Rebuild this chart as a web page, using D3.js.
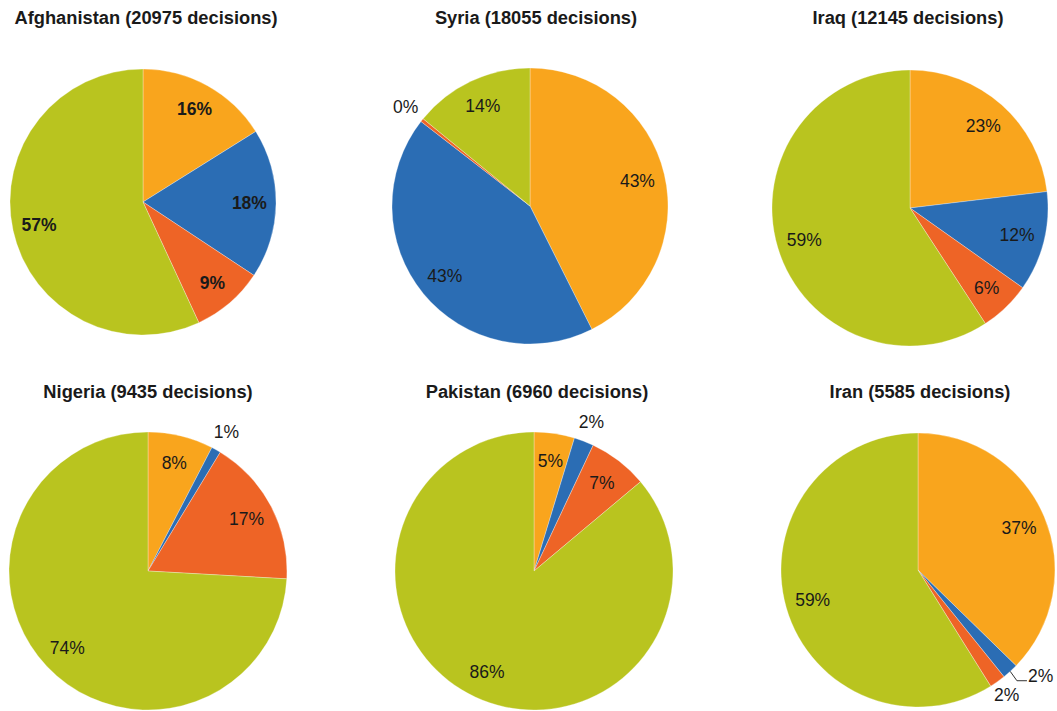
<!DOCTYPE html>
<html>
<head>
<meta charset="utf-8">
<script src="https://cdn.jsdelivr.net/npm/d3@7"></script>
<style>
  html, body { margin: 0; padding: 0; background: #fff; }
  svg { display: block; }
</style>
</head>
<body>
<svg id="chart" width="1057" height="711"></svg>
<script>
// ---- Data ----
const countries = ["Afghanistan", "Syria", "Iraq", "Nigeria", "Pakistan", "Iran"];
const decisions = [20975, 18055, 12145, 9435, 6960, 5585];
const categories = ["Cat A", "Cat B", "Cat C", "Cat D"];
// share of decisions (%) per category, in order: orange, blue, red, green
const afghanistanValues = [16.1, 18.2, 8.8, 56.9];
const syriaValues       = [42.6, 42.9, 0.4, 14.1];
const iraqValues        = [23.1, 11.7, 6.0, 59.2];
const nigeriaValues     = [7.6, 1.1, 17.2, 74.1];
const pakistanValues    = [4.7, 2.3, 6.9, 86.1];
const iranValues        = [37.3, 1.9, 1.9, 58.9];
const seriesValues = [afghanistanValues, syriaValues, iraqValues, nigeriaValues, pakistanValues, iranValues];

// ---- Layout / style ----
const colors = ["#F9A51D", "#2B6DB4", "#EE6426", "#B9C41F"];
const layout = [
  { cx: 143, cy: 202, r: 133, tx: 146, ty: 24, bold: true },
  { cx: 530, cy: 206, r: 138, tx: 536, ty: 24 },
  { cx: 910, cy: 208, r: 138, tx: 908, ty: 24 },
  { cx: 148, cy: 571, r: 139, tx: 148, ty: 398 },
  { cx: 534, cy: 571, r: 139, tx: 537, ty: 398 },
  { cx: 918, cy: 570, r: 137, tx: 920, ty: 398 }
];
const FONT = "Liberation Sans, Arial, sans-serif";
const LABEL_SIZE = 17.5;

const svg = d3.select("#chart");
const fmt = d3.format(".0%");
const color = d3.scaleOrdinal().domain(categories).range(colors);
const pie = d3.pie().sort(null).value(d => d.v);

countries.forEach((name, i) => {
  const L = layout[i];
  const vals = seriesValues[i];
  const total = d3.sum(vals);
  const data = vals.map((v, k) => ({ cat: categories[k], v: v }));
  const arcs = pie(data);
  const arc = d3.arc().innerRadius(0).outerRadius(L.r);
  const labelArc = d3.arc().innerRadius(L.r * 0.8).outerRadius(L.r * 0.8);

  svg.append("text")
    .attr("x", L.tx).attr("y", L.ty)
    .attr("text-anchor", "middle")
    .attr("font-family", FONT)
    .attr("font-weight", "bold")
    .attr("font-size", 18.3)
    .attr("fill", "#1a1a1a")
    .text(`${name} (${decisions[i]} decisions)`);

  const g = svg.append("g").attr("transform", `translate(${L.cx},${L.cy})`);
  g.selectAll("path").data(arcs).join("path")
    .attr("d", arc)
    .attr("fill", d => color(d.data.cat))
    .attr("stroke", "rgba(255,255,255,0.6)")
    .attr("stroke-width", 0.5);

  arcs.forEach((a, k) => {
    const share = a.data.v / total;
    const small = share < 0.03;
    const mid = (a.startAngle + a.endAngle) / 2;
    const txt = fmt(share);
    const nextSmall = k + 1 < arcs.length && arcs[k + 1].data.v / total < 0.03;
    const prevSmall = k > 0 && arcs[k - 1].data.v / total < 0.03;
    if (!small) {
      const [x, y] = labelArc.centroid(a);
      g.append("text")
        .attr("x", x).attr("y", y)
        .attr("dy", "0.35em")
        .attr("text-anchor", "middle")
        .attr("font-family", FONT)
        .attr("font-size", LABEL_SIZE)
        .attr("font-weight", L.bold ? "bold" : "normal")
        .attr("fill", "#1a1a1a")
        .text(txt);
    } else if (nextSmall) {
      // label with leader line
      const p0 = [Math.sin(mid) * L.r, -Math.cos(mid) * L.r];
      const p1 = [Math.sin(mid) * (L.r + 10), -Math.cos(mid) * (L.r + 10) + 2];
      const p2 = [p1[0] + 10, p1[1]];
      g.append("path")
        .attr("d", d3.line()([p0, p1, p2]))
        .attr("fill", "none")
        .attr("stroke", "#333")
        .attr("stroke-width", 1);
      g.append("text")
        .attr("x", p2[0] + 1).attr("y", p2[1])
        .attr("dy", "0.1em")
        .attr("text-anchor", "start")
        .attr("font-family", FONT)
        .attr("font-size", LABEL_SIZE)
        .attr("fill", "#1a1a1a")
        .text(txt);
    } else {
      const off = prevSmall ? 16 : 21;
      const outArc = d3.arc().innerRadius(L.r + off).outerRadius(L.r + off);
      const [x, y] = outArc.centroid(a);
      g.append("text")
        .attr("x", x).attr("y", y)
        .attr("dy", "0.35em")
        .attr("text-anchor", "middle")
        .attr("font-family", FONT)
        .attr("font-size", LABEL_SIZE)
        .attr("fill", "#1a1a1a")
        .text(txt);
    }
  });
});
</script>
</body>
</html>
